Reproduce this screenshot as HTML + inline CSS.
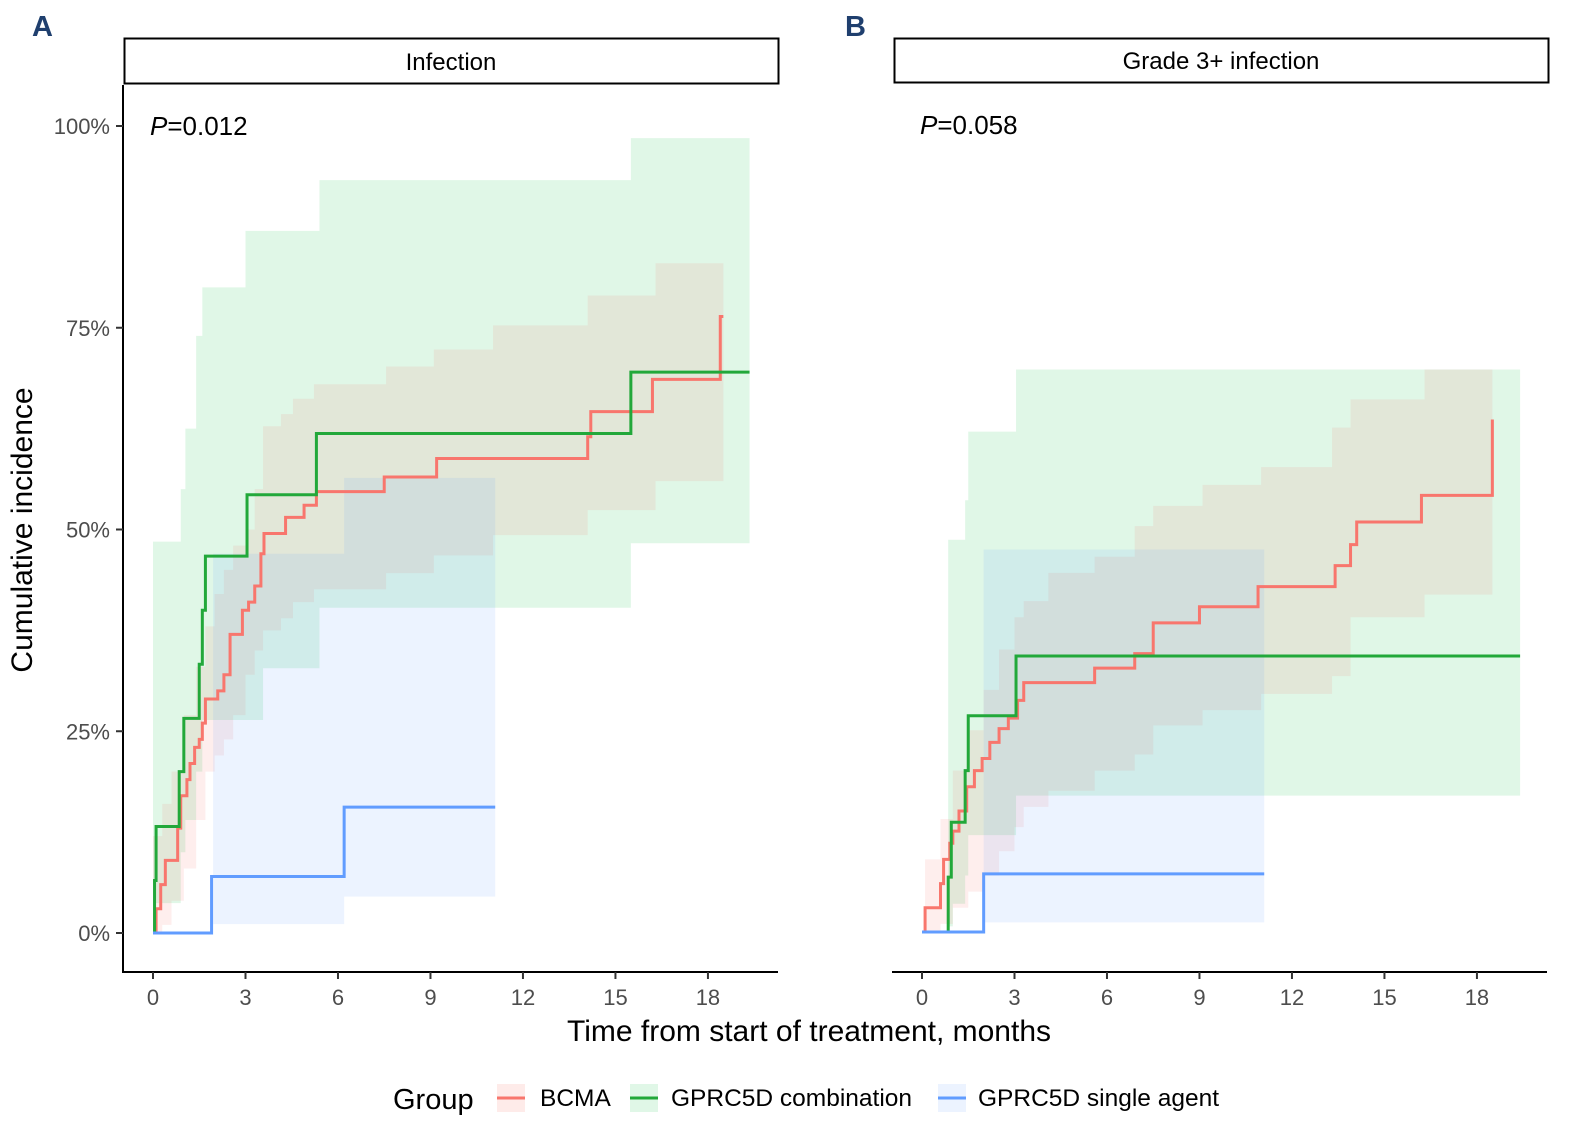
<!DOCTYPE html>
<html><head><meta charset="utf-8"><style>
body{margin:0;background:#fff;}
svg{display:block;font-family:"Liberation Sans",Arial,sans-serif;}
</style></head><body>
<svg id="chart" width="1577" height="1132" viewBox="0 0 1577 1132">
<text x="32" y="36" font-size="29" font-weight="bold" fill="#1f3f6e">A</text>
<text x="845" y="36" font-size="29" font-weight="bold" fill="#1f3f6e">B</text>
<rect x="124.5" y="38.5" width="654" height="45" fill="#fff" stroke="#000" stroke-width="2"/>
<text x="451" y="70" font-size="24" text-anchor="middle">Infection</text>
<rect x="894.5" y="38.5" width="654" height="44" fill="#fff" stroke="#000" stroke-width="2"/>
<text x="1221" y="69" font-size="24" text-anchor="middle">Grade 3+ infection</text>
<g id="pA"></g>
<g id="pB"></g>
<text x="150" y="135" font-size="26"><tspan font-style="italic">P</tspan>=0.012</text>
<text x="920" y="134" font-size="26"><tspan font-style="italic">P</tspan>=0.058</text>
<text x="809" y="1041" font-size="30" text-anchor="middle" fill="#000">Time from start of treatment, months</text>
<text transform="translate(32,530) rotate(-90)" font-size="30" text-anchor="middle">Cumulative incidence</text>
<g>
<text x="393" y="1109" font-size="29">Group</text>
<rect x="497" y="1084" width="28" height="28" fill="#F8766D" fill-opacity="0.15"/>
<line x1="497" y1="1098" x2="525" y2="1098" stroke="#F8766D" stroke-width="3"/>
<text x="540" y="1106" font-size="24.5">BCMA</text>
<rect x="630" y="1084" width="28" height="28" fill="#00BA38" fill-opacity="0.12"/>
<line x1="630" y1="1098" x2="658" y2="1098" stroke="#22A83A" stroke-width="3"/>
<text x="671" y="1106" font-size="24.5">GPRC5D combination</text>
<rect x="938" y="1084" width="28" height="28" fill="#619CFF" fill-opacity="0.12"/>
<line x1="938" y1="1098" x2="966" y2="1098" stroke="#619CFF" stroke-width="3"/>
<text x="978" y="1106" font-size="24.5">GPRC5D single agent</text>
</g>
</svg>
<script>
// Panel A data (time in months, cumulative incidence in %)
const xTicks = [0,3,6,9,12,15,18];
const yTicks = [0,25,50,75,100];
const yTickLabels = ["0%","25%","50%","75%","100%"];

const aRedT = [0,0.1,0.25,0.4,0.8,0.9,1.1,1.2,1.35,1.5,1.6,1.7,2.1,2.3,2.5,2.9,3.1,3.3,3.5,3.6,4.3,4.9,5.3,7.5,9.2,14.1,14.2,16.2,18.4];
const aRedV = [0,3,6,9,13,17,19,21,23,24,26,29,30,32,37,40,41,43,47,49.5,51.5,53,54.7,56.5,58.8,61.5,64.6,68.6,76.4];
const aRedBandT = [0,0.3,0.6,1.0,1.4,1.7,2.0,2.3,2.6,3.0,3.3,3.57,4.15,4.54,5.22,7.56,9.11,11.03,14.1,16.3];
const aRedUp = [12,16,20,27,33,38,42,45,48,50,55,62.8,64.3,66.2,68.0,70.2,72.3,75.3,79,83];
const aRedLo = [0,1,4,8,14,20,22,24,27,32,35,37.5,39,41,42.6,44.6,46.8,49.3,52.4,56];
const aRedEnd = 18.5;

const aGreenT = [0,0.05,0.1,0.85,1.0,1.5,1.6,1.7,3.05,5.3,15.5];
const aGreenV = [0,6.5,13.2,20,26.6,33.3,40,46.7,54.3,61.9,69.5];
const aGreenBandT = [0,0.9,1.05,1.4,1.6,3.0,3.57,5.4,15.5];
const aGreenUp = [48.5,55,62.5,74,80,87,87,93.3,98.5];
const aGreenLo = [3.7,10,14,20,26.4,26.4,32.8,40.3,48.3];
const aGreenEnd = 19.35;

const aBlueT = [0,1.9,6.2];
const aBlueV = [0,7,15.6];
const aBlueBandT = [1.95,6.2];
const aBlueUp = [47,56.4];
const aBlueLo = [1.1,4.5];
const aBlueEnd = 11.1;

// Panel B data
const bRedT = [0,0.1,0.6,0.7,0.9,1.0,1.2,1.45,1.7,1.95,2.2,2.5,2.8,3.1,3.3,5.6,6.9,7.5,9.0,10.9,13.4,13.9,14.1,16.2,18.5];
const bRedV = [0,3,6,9,11,12.5,15,18,20,21.5,23.5,25.2,26.5,28.7,30.9,32.7,34.5,38.3,40.3,42.8,45.4,48,50.8,54.1,63.5];
const bRedBandT = [0.1,0.6,1.0,1.5,2.0,2.5,3.0,3.3,4.1,5.6,6.9,7.5,9.1,11.0,13.3,13.9,16.3];
const bRedUp = [9,14,20,25,30,35,39,41,44.5,46.5,50.3,52.8,55.4,57.6,62.5,66,69.7];
const bRedLo = [0,1,3,5,7,10,13,15.5,17.5,20,22,25.6,27.5,29.5,31.7,39,41.8];
const bRedEnd = 18.5;

const bGreenT = [0,0.85,0.95,1.4,1.5,3.05];
const bGreenV = [0,6.8,13.6,20,26.8,34.2];
const bGreenBandT = [0.85,1.0,1.4,1.5,3.05];
const bGreenUp = [48.6,48.6,53.5,62,69.7];
const bGreenLo = [0.7,3.5,7,12,16.9];
const bGreenEnd = 19.4;

const bBlueT = [0,2.0];
const bBlueV = [0,7.2];
const bBlueBandT = [2.0];
const bBlueUp = [47.4];
const bBlueLo = [1.2];
const bBlueEnd = 11.1;

const NS = "http://www.w3.org/2000/svg";
function mk(tag, attrs, parent){const e=document.createElementNS(NS,tag);for(const k in attrs)e.setAttribute(k,attrs[k]);parent.appendChild(e);return e;}

function panel(g, x0, yZero, showY){
  const sx = t => x0 + t*30.83;
  const sy = v => yZero - v*8.07;
  const bands = [
    [showY?aGreenBandT:bGreenBandT, showY?aGreenUp:bGreenUp, showY?aGreenLo:bGreenLo, showY?aGreenEnd:bGreenEnd, "#00BA38", 0.12, "band-combination"],
    [showY?aRedBandT:bRedBandT, showY?aRedUp:bRedUp, showY?aRedLo:bRedLo, showY?aRedEnd:bRedEnd, "#F8766D", 0.12, "band-bcma"],
    [showY?aBlueBandT:bBlueBandT, showY?aBlueUp:bBlueUp, showY?aBlueLo:bBlueLo, showY?aBlueEnd:bBlueEnd, "#619CFF", 0.12, "band-single-agent"]
  ];
  for(const [T,U,L,end,col,op,name] of bands){
    let up="", lo="";
    for(let i=0;i<T.length;i++){
      const t1 = i<T.length-1?T[i+1]:end;
      up += `${sx(T[i])},${sy(U[i])} ${sx(t1)},${sy(U[i])} `;
    }
    for(let i=T.length-1;i>=0;i--){
      const t1 = i<T.length-1?T[i+1]:end;
      lo += `${sx(t1)},${sy(L[i])} ${sx(T[i])},${sy(L[i])} `;
    }
    const p = mk("polygon",{points:up+lo,fill:col,"fill-opacity":op},g);
    
    
  }
  const lines = [
    [showY?aRedT:bRedT, showY?aRedV:bRedV, showY?aRedEnd:bRedEnd, "#F8766D", "line-bcma"],
    [showY?aGreenT:bGreenT, showY?aGreenV:bGreenV, showY?aGreenEnd:bGreenEnd, "#22A83A", "line-combination"],
    [showY?aBlueT:bBlueT, showY?aBlueV:bBlueV, showY?aBlueEnd:bBlueEnd, "#619CFF", "line-single-agent"]
  ];
  for(const [T,V,end,col,name] of lines){
    let d = `M${sx(T[0])},${sy(V[0])}`;
    for(let i=1;i<T.length;i++){ d += ` H${sx(T[i])} V${sy(V[i])}`; }
    d += ` H${sx(end)}`;
    const p = mk("path",{d:d,fill:"none",stroke:col,"stroke-width":3},g);
    
    
  }
  const left = x0-30, right = x0+625;
  const ax = mk("line",{x1:left,y1:972,x2:right,y2:972,stroke:"#000","stroke-width":2},g);
  
  
  for(const t of xTicks){
    mk("line",{x1:sx(t),y1:972,x2:sx(t),y2:979,stroke:"#333","stroke-width":2},g);
    const tx = mk("text",{x:sx(t),y:1005,"font-size":22,"text-anchor":"middle",fill:"#4d4d4d"},g);
    tx.textContent = t;
    
    
  }
  if(showY){
    const ay = mk("line",{x1:left,y1:85,x2:left,y2:973,stroke:"#000","stroke-width":2},g);
    
    
    yTicks.forEach((v,i)=>{
      mk("line",{x1:left-7,y1:sy(v),x2:left,y2:sy(v),stroke:"#333","stroke-width":2},g);
      const tx = mk("text",{x:left-13,y:sy(v)+8,"font-size":22,"text-anchor":"end",fill:"#4d4d4d"},g);
      tx.textContent = yTickLabels[i];
      
      
    });
  }
}
panel(document.getElementById("pA"), 153, 933, true);
panel(document.getElementById("pB"), 922, 932, false);
</script>
</body></html>
